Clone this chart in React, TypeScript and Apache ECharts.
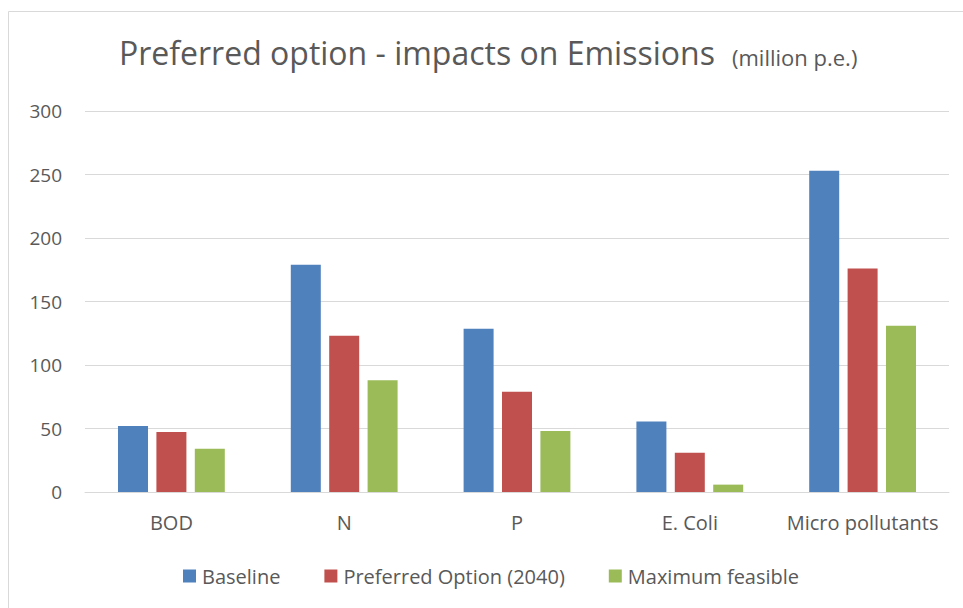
import React, { useEffect, useRef } from "react";
import * as echarts from "echarts";

const categories = ["BOD", "N", "P", "E. Coli", "Micro pollutants"];
const seriesNames = ["Baseline", "Preferred Option (2040)", "Maximum feasible"];
const baseline = [52, 179, 128.5, 55.5, 253];
const preferred = [47.3, 123, 79, 31, 176];
const maximum = [34, 88, 48, 5.8, 131];
const yTicks = { min: 0, max: 300, interval: 50 };

const colors = ["#4f81bd", "#c0504d", "#9bbb59"];
const FONT = "Open Sans";
const TEXT = "#595959";

export default function App() {
  const ref = useRef<HTMLDivElement>(null);
  useEffect(() => {
    if (!ref.current) return;
    const chart = echarts.init(ref.current, undefined, { renderer: "svg" });
    const values = [baseline, preferred, maximum];
    chart.setOption({
      animation: false,
      backgroundColor: "#ffffff",
      textStyle: { fontFamily: FONT },
      title: [
        {
          text: "Preferred option - impacts on Emissions",
          left: 119,
          top: 36.5,
          padding: 0,
          textStyle: { fontFamily: FONT, fontSize: 32, fontWeight: "normal", color: TEXT },
        },
        {
          text: "(million p.e.)",
          left: 732,
          top: 45.5,
          padding: 0,
          textStyle: { fontFamily: FONT, fontSize: 22, fontWeight: "normal", color: TEXT },
        },
      ],
      graphic: [
        {
          type: "rect",
          shape: { x: 8.5, y: 11.5, width: 1000, height: 700 },
          style: { fill: "none", stroke: "#d9d9d9", lineWidth: 1 },
          silent: true,
        },
      ],
      legend: {
        data: seriesNames,
        left: 183,
        top: 566,
        itemWidth: 13,
        itemHeight: 13,
        itemGap: 44,
        icon: "rect",
        padding: 0,
        textStyle: { fontFamily: FONT, fontSize: 20, color: TEXT, padding: [0, 0, 0, 1] },
      },
      grid: { left: 85, right: 14, top: 111, bottom: 116, containLabel: false },
      xAxis: {
        type: "category",
        data: categories,
        axisLine: { lineStyle: { color: "#d9d9d9", width: 1 } },
        axisTick: { show: false },
        axisLabel: { color: TEXT, fontSize: 20, fontFamily: FONT, margin: 20, interval: 0 },
      },
      yAxis: {
        type: "value",
        min: yTicks.min,
        max: yTicks.max,
        interval: yTicks.interval,
        axisLine: { show: false },
        axisTick: { show: false },
        splitLine: { lineStyle: { color: "#d9d9d9", width: 1 } },
        axisLabel: { color: TEXT, fontSize: 19, fontFamily: FONT, margin: 23 },
      },
      series: seriesNames.map((name, i) => ({
        name,
        type: "bar",
        data: values[i],
        barWidth: 30,
        barGap: "28%",
        itemStyle: { color: colors[i] },
      })),
    });
    return () => chart.dispose();
  }, []);
  return (
    <div
      ref={ref}
      style={{ position: "absolute", left: 0, top: 0, width: 963, height: 608 }}
    />
  );
}
